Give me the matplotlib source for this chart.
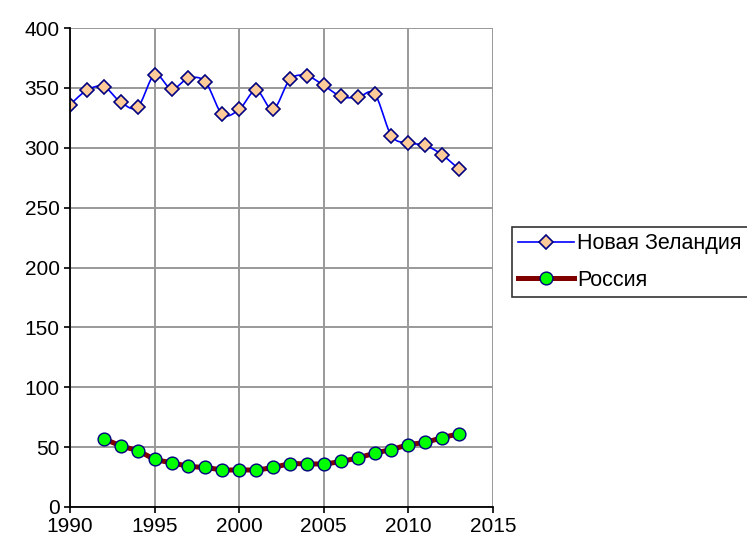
import numpy as np
import matplotlib
matplotlib.use("Agg")
import matplotlib.pyplot as plt
from matplotlib.lines import Line2D

plt.rcParams['font.family'] = ['Liberation Sans', 'DejaVu Sans']

nz_years = list(range(1990, 2014))
nz_values = [336, 348, 351, 338, 334, 361, 349, 358, 355, 328, 332, 348,
             332, 357, 360, 352, 343, 342, 345, 310, 304, 302, 294, 282]

ru_years = list(range(1992, 2014))
ru_values = [57, 51, 47, 40, 37, 34, 33, 31, 31, 31, 33, 36,
             36, 36, 38, 41, 45, 48, 52, 54, 58, 61]

labels = ["Новая Зеландия", "Россия"]
x_ticks = [1990, 1995, 2000, 2005, 2010, 2015]
y_ticks = [0, 50, 100, 150, 200, 250, 300, 350, 400]


def smooth(xs, ys, n=20):
    xs = np.asarray(xs, float)
    ys = np.asarray(ys, float)
    px = np.concatenate([[xs[0]], xs, [xs[-1]]])
    py = np.concatenate([[ys[0]], ys, [ys[-1]]])
    outx, outy = [], []
    for i in range(1, len(px) - 2):
        p0 = np.array([px[i - 1], py[i - 1]])
        p1 = np.array([px[i], py[i]])
        p2 = np.array([px[i + 1], py[i + 1]])
        p3 = np.array([px[i + 2], py[i + 2]])
        c1 = p1 + (p2 - p0) / 6.0
        c2 = p2 - (p3 - p1) / 6.0
        t = np.linspace(0, 1, n, endpoint=(i == len(px) - 3))
        pts = ((1 - t) ** 3)[:, None] * p1 + (3 * (1 - t) ** 2 * t)[:, None] * c1 \
            + (3 * (1 - t) * t ** 2)[:, None] * c2 + (t ** 3)[:, None] * p2
        outx.extend(pts[:, 0])
        outy.extend(pts[:, 1])
    return outx, outy


fig = plt.figure(figsize=(7.47, 5.43), dpi=100)
ax = fig.add_axes([70 / 747, 1 - 507 / 543, (493 - 70) / 747, (507 - 28) / 543])

nz_c = '#0000FF'
ru_c = '#800000'
edge = '#000080'

sx, sy = smooth(ru_years, ru_values)
ax.plot(sx, sy, color=ru_c, lw=3.6, zorder=3, solid_capstyle='butt')
ax.plot(ru_years, ru_values, ls='none', marker='o', ms=9.2, mfc='#00FF00',
        mec=edge, mew=1.0, zorder=4)

sx, sy = smooth(nz_years, nz_values)
ax.plot(sx, sy, color=nz_c, lw=1.2, zorder=3)
ax.plot(nz_years, nz_values, ls='none', marker='D', ms=7.0, mfc='#FFCC99',
        mec=edge, mew=1.2, zorder=4)

ax.set_xlim(1990, 2015)
ax.set_ylim(0, 400)
ax.set_xticks(x_ticks)
ax.set_yticks(y_ticks)
ax.grid(True, color='#999999', lw=1.4)
ax.set_axisbelow(True)
for s in ['top', 'right']:
    ax.spines[s].set_visible(False)
for s in ['left', 'bottom']:
    ax.spines[s].set_color('black')
    ax.spines[s].set_linewidth(1.3)
    ax.spines[s].set_zorder(5)
ax.tick_params(axis='both', direction='out', length=4.5, width=1.2,
               labelsize=15, colors='black', pad=3)

handles = [
    Line2D([], [], color=nz_c, lw=1.2, marker='D', ms=7.0, mfc='#FFCC99', mec=edge, mew=1.2),
    Line2D([], [], color=ru_c, lw=3.6, marker='o', ms=9.2, mfc='#00FF00', mec=edge, mew=1.0),
]
leg = fig.legend(handles, labels, loc='upper left',
                 bbox_to_anchor=(512 / 747, 1 - 227 / 543), borderaxespad=0,
                 fontsize=15.5, frameon=True, fancybox=False, edgecolor='black',
                 handlelength=2.6, handletextpad=0.12, borderpad=0.3,
                 labelspacing=0.72)
leg.get_frame().set_linewidth(1.2)

fig.savefig('out.png', dpi=100)
